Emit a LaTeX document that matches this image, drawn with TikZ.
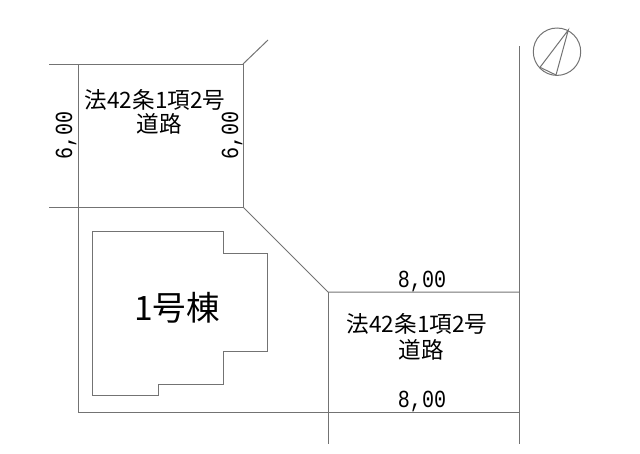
\documentclass[tikz,border=0pt]{standalone}
\usepackage{fontspec}
\setmainfont{Noto Sans CJK JP}
\newfontfamily\dimfont[FakeStretch=0.82]{Liberation Mono}
\usepackage{tikz}

\begin{document}
\begin{tikzpicture}[x=1pt, y=-1pt, line width=1pt,
		plan line/.style={draw=black!55},
		road label/.style={inner sep=0pt,font=\fontsize{22.6}{24}\selectfont},
		house label/.style={inner sep=0pt,font=\fontsize{33.6}{36}\selectfont},
		dim label/.style={inner sep=0pt,font=\dimfont\fontsize{24.5}{26}\selectfont}]
		
		\useasboundingbox (0,0) rectangle (640,453);
		
		\draw[plan line] (49,64) -- (243,64) -- (243,207) -- (49,207);
		\draw[plan line] (78,64) -- (78,412) -- (519,412);
		\draw[plan line] (243,64) -- (268,40);
		\draw[plan line] (243,207) -- (328,292) -- (519,292);
		\draw[plan line] (328,292) -- (328,444);
		\draw[plan line] (519,46) -- (519,444);
		
		\draw[plan line] (92.7,231.7) -- (223.7,231.7) -- (223.7,253) -- (267,253) -- (267,351)
		-- (223.7,351) -- (223.7,384) -- (158,384) -- (158,395) -- (92.7,395) -- cycle;
		
		\draw[plan line] (557,51.7) circle (23.7);
		\draw[plan line] (568.3,30) -- (540,67.3) -- (556,75) -- cycle;
		
		\node[road label] (road1a) at (155,100) {法42条1項2号};
		\node[road label] (road1b) at (159,124) {道路};
		\node[road label] (road2a) at (417,324) {法42条1項2号};
		\node[road label] (road2b) at (421,350) {道路};
		\node[house label] (house) at (177,308) {1号棟};
		
		\node[dim label] (top) at (422,281) {8,00};
		\node[dim label] (bottom) at (422,401) {8,00};
		\node[dim label,rotate=90] (left) at (66,135.5) {6,00};
		\node[dim label,rotate=90] (right) at (232,135.5) {6,00};
\end{tikzpicture}
\end{document}
